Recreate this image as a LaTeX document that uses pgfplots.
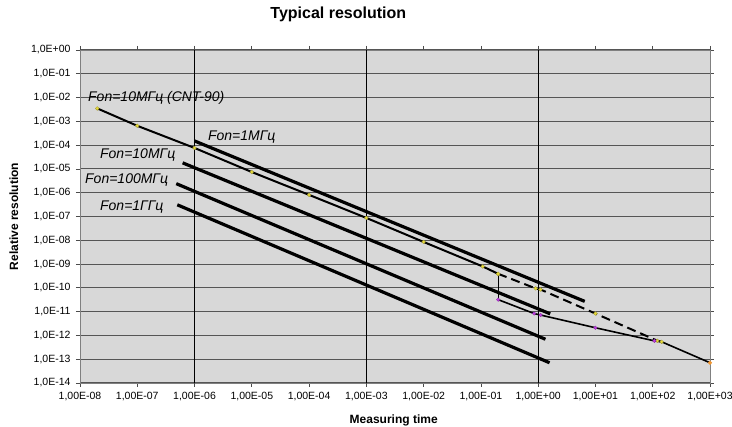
\documentclass[border=0pt]{standalone}
\usepackage{fontspec}
\setmainfont{Liberation Sans}
\usepackage{pgfplots}
\pgfplotsset{compat=1.18}
\definecolor{plotbg}{RGB}{216,216,216}
\definecolor{gridc}{RGB}{85,85,85}
\definecolor{dotyel}{RGB}{228,216,60}
\definecolor{dotpur}{RGB}{190,60,225}
\definecolor{dotorg}{RGB}{240,150,50}

\begin{document}
\begin{tikzpicture}
\useasboundingbox (0pt,0pt) rectangle (732pt,427pt);
\begin{axis}[
  at={(80pt,44pt)}, anchor=south west,
  scale only axis, width=630pt, height=333pt,
  xmode=log, ymode=log,
  xmin=1e-8, xmax=1e3, ymin=1e-14, ymax=1,
  axis background/.style={fill=plotbg},
  axis line style={draw=gray, line width=0.8pt},
  xminorticks=false, yminorticks=false,
  tick align=outside, major tick length=4pt,
  tick style={black!70, line width=0.8pt},
  xtick={1e-8,1e-7,1e-6,1e-5,1e-4,1e-3,1e-2,1e-1,1,1e1,1e2,1e3},
  xticklabels={{1,00E-08},{1,00E-07},{1,00E-06},{1,00E-05},{1,00E-04},{1,00E-03},{1,00E-02},{1,00E-01},{1,00E+00},{1,00E+01},{1,00E+02},{1,00E+03}},
  ytick={1e-14,1e-13,1e-12,1e-11,1e-10,1e-9,1e-8,1e-7,1e-6,1e-5,1e-4,1e-3,1e-2,1e-1,1},
  yticklabels={{1,0E-14},{1,0E-13},{1,0E-12},{1,0E-11},{1,0E-10},{1,0E-09},{1,0E-08},{1,0E-07},{1,0E-06},{1,0E-05},{1,0E-04},{1,0E-03},{1,0E-02},{1,0E-01},{1,0E+00}},
  tick label style={font=\fontsize{10.5}{10.5}\selectfont},
  xticklabel style={yshift=-2pt},
  yticklabel style={xshift=-2pt},
  ymajorgrids, major grid style={gridc, line width=1pt},
  extra x ticks={1e-6,1e-3,1},
  extra x tick labels={},
  extra x tick style={grid=major, major grid style={black, line width=1.1pt}},
  title={Typical resolution},
  title style={at={(0.41,1.09)}, anchor=center, font=\bfseries\fontsize{16}{16}\selectfont},
  xlabel={Measuring time},
  xlabel style={at={(0.498,-0.111)}, anchor=center, font=\bfseries\fontsize{12}{12}\selectfont},
  ylabel={Relative resolution},
  ylabel style={at={(-0.105,0.5)}, anchor=center, font=\bfseries\fontsize{12}{12}\selectfont},
  clip=false,
]
% Fon lines
\addplot[black, line width=3.2pt] coordinates {(1e-6,1.5e-4) (6.5,2.7e-11)};
\addplot[black, line width=3.2pt] coordinates {(6.2e-7,1.8e-5) (1.62,8.1e-12)};
\addplot[black, line width=3.2pt] coordinates {(4.8e-7,2.4e-6) (1.34,6.9e-13)};
\addplot[black, line width=3.2pt] coordinates {(5e-7,3.1e-7) (1.58,7.1e-14)};
% CNT-90
\addplot[black, line width=2pt, mark=*, mark size=1.9pt,
  mark options={fill=dotyel, draw=dotyel!70!black, line width=0.3pt}]
  coordinates {(2e-8,3.5e-3) (1e-7,6.5e-4) (1e-6,7.6e-5) (1e-5,7.4e-6) (1e-4,8.1e-7)
               (1e-3,8.7e-8) (1e-2,8.5e-9) (0.108,7.9e-10) (0.2,3.9e-10)};
\addplot[black, line width=1.1pt] coordinates {(0.2,3.9e-10) (0.2,3.2e-11)};
\addplot[black, line width=2pt, dash pattern=on 9pt off 5pt, mark=*, mark size=1.9pt,
  mark options={solid, fill=dotyel, draw=dotyel!70!black, line width=0.3pt}]
  coordinates {(0.2,3.9e-10) (0.9,9.5e-11) (1.1,8.5e-11) (10,8.3e-12) (120,6e-13) (143,5.4e-13)};
\addplot[black, line width=1.6pt, mark=*, mark size=1.8pt,
  mark options={fill=dotpur, draw=dotpur!70!black, line width=0.3pt}]
  coordinates {(0.2,3.2e-11) (0.85,8.3e-12) (1.1,7.2e-12) (10,2.1e-12) (107,5.9e-13)};
\addplot[black, line width=1.6pt] coordinates {(107,5.9e-13) (143,5.4e-13) (1000,7.1e-14)};
\addplot[only marks, mark=*, mark size=1.8pt, mark options={fill=dotorg, draw=dotorg}]
  coordinates {(1000,7.1e-14)};
% labels
\begin{scope}[every node/.style={anchor=west, inner sep=0pt, font=\itshape\fontsize{14}{14}\selectfont}]
\node at (rel axis cs:0.0127,0.856) {Fon=10MГц (CNT-90)};
\node at (rel axis cs:0.203,0.739) {Fon=1MГц};
\node at (rel axis cs:0.0317,0.685) {Fon=10MГц};
\node at (rel axis cs:0.0079,0.610) {Fon=100MГц};
\node at (rel axis cs:0.0317,0.529) {Fon=1ГГц};
\end{scope}
\end{axis}
\end{tikzpicture}
\end{document}
